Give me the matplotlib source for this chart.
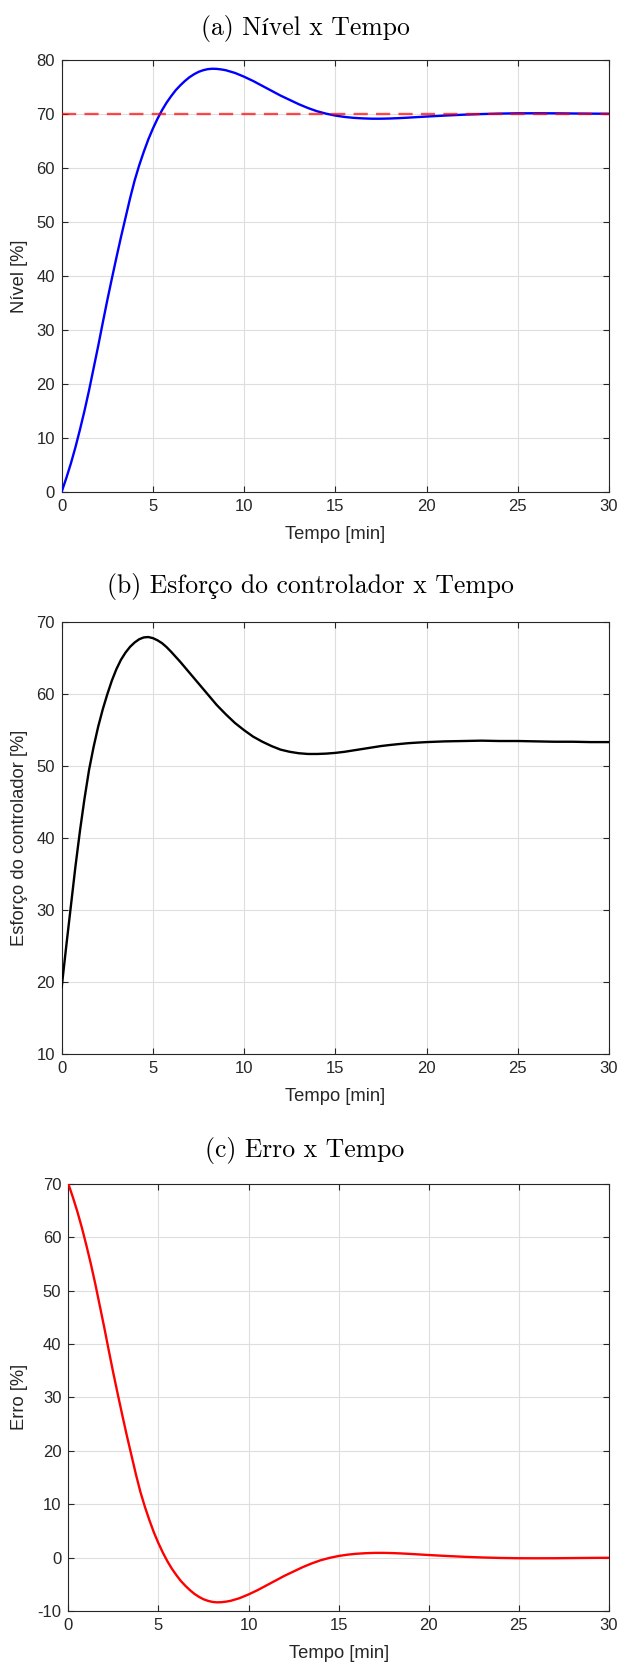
import matplotlib
matplotlib.use("Agg")
import matplotlib.pyplot as plt

# tempo [min]
tempo = [0, 0.25, 0.5, 0.75, 1, 1.25, 1.5, 1.75, 2, 2.25, 2.5, 2.75, 3, 3.25, 3.5, 3.75,
         4, 4.25, 4.5, 4.75, 5, 5.25, 5.5, 5.75, 6, 6.25, 6.5, 6.75, 7, 7.25, 7.5, 7.75,
         8, 8.25, 8.5, 8.75, 9, 9.5, 10, 10.5, 11, 11.5, 12, 12.5, 13, 13.5, 14, 14.5,
         15, 15.5, 16, 16.5, 17, 17.5, 18, 18.5, 19, 19.5, 20, 21, 22, 23, 24, 25, 26,
         27, 28, 29, 30]

nivel = [0, 2.5, 5.2, 8.2, 11.5, 15.0, 18.8, 22.9, 27.0, 31.3, 35.5, 39.5, 43.4, 47.2,
         50.8, 54.4, 57.7, 60.5, 63.0, 65.3, 67.3, 69.1, 70.7, 72.1, 73.3, 74.4, 75.3,
         76.1, 76.8, 77.35, 77.8, 78.1, 78.3, 78.38, 78.35, 78.25, 78.1, 77.6, 76.9,
         76.1, 75.2, 74.3, 73.4, 72.6, 71.8, 71.1, 70.5, 70.05, 69.7, 69.45, 69.28,
         69.18, 69.12, 69.12, 69.16, 69.23, 69.32, 69.42, 69.52, 69.7, 69.86, 69.98,
         70.07, 70.12, 70.13, 70.12, 70.09, 70.06, 70.04]

esforco = [19.3, 25.0, 30.5, 36.0, 41.0, 45.5, 49.5, 52.7, 55.5, 57.9, 60.0, 61.9, 63.5,
           64.8, 65.8, 66.6, 67.2, 67.65, 67.9, 67.95, 67.8, 67.5, 67.1, 66.55, 65.9,
           65.2, 64.5, 63.75, 63.0, 62.25, 61.5, 60.75, 60.0, 59.25, 58.5, 57.85, 57.2,
           56.0, 55.0, 54.1, 53.4, 52.8, 52.3, 52.0, 51.8, 51.7, 51.7, 51.75, 51.85,
           52.0, 52.2, 52.4, 52.6, 52.8, 52.95, 53.08, 53.2, 53.28, 53.35, 53.45, 53.5,
           53.55, 53.5, 53.5, 53.45, 53.4, 53.4, 53.35, 53.35]

erro = [70, 67.5, 64.8, 61.8, 58.5, 55.0, 51.2, 47.1, 43.0, 38.7, 34.5, 30.5, 26.6, 22.8,
        19.2, 15.6, 12.3, 9.5, 7.0, 4.7, 2.7, 0.9, -0.7, -2.1, -3.3, -4.4, -5.3, -6.1,
        -6.8, -7.35, -7.8, -8.1, -8.3, -8.38, -8.35, -8.25, -8.1, -7.6, -6.9, -6.1,
        -5.2, -4.3, -3.4, -2.6, -1.8, -1.1, -0.5, -0.05, 0.3, 0.55, 0.72, 0.82, 0.88,
        0.88, 0.84, 0.77, 0.68, 0.58, 0.48, 0.3, 0.14, 0.02, -0.07, -0.12, -0.13,
        -0.12, -0.09, -0.06, -0.04]

setpoint = 70

titulos = ["(a) Nível x Tempo", "(b) Esforço do controlador x Tempo", "(c) Erro x Tempo"]
ylabels = ["Nível [%]", "Esforço do controlador [%]", "Erro [%]"]
ylims = [(0, 80), (10, 70), (-10, 70)]

plt.rcParams['font.family'] = ['Liberation Sans', 'DejaVu Sans']
plt.rcParams['axes.unicode_minus'] = False
W, H = 622, 1666
fig = plt.figure(figsize=(W / 100, H / 100), dpi=100)

# caixas dos eixos em pixels: esquerda, topo, direita, base
caixas = [(61.7, 60, 609, 491.7), (61.7, 622.3, 609, 1054), (68.3, 1183.7, 609, 1611)]
titulo_pos = [(305.7, 29), (310, 587), (304.6, 1150.5)]
cinza = '#262626'

axes = []
for i, (l, t, r, b) in enumerate(caixas):
    ax = fig.add_axes([l / W, 1 - b / H, (r - l) / W, (b - t) / H])
    ax.set_xlim(0, 30)
    ax.set_ylim(*ylims[i])
    ax.set_xticks(range(0, 31, 5))
    ax.set_yticks(range(ylims[i][0], ylims[i][1] + 1, 10))
    ax.grid(True, color='#dedede', linewidth=0.8)
    ax.set_axisbelow(True)
    ax.tick_params(direction='in', top=True, right=True, length=4, width=0.8,
                   colors=cinza, labelsize=12, pad=5)
    for s in ax.spines.values():
        s.set_color(cinza)
        s.set_linewidth(0.8)
    ax.set_xlabel("Tempo [min]", fontsize=13.2, color=cinza)
    ax.set_ylabel(ylabels[i], fontsize=13.2, color=cinza)
    ax.xaxis.label.set_va('center')
    ax.yaxis.label.set_va('center')
    ax.xaxis.set_label_coords(0.5, -42.5 / (b - t))
    ax.yaxis.set_label_coords(-(l - 19.5) / (r - l), 0.5)
    x, y = titulo_pos[i]
    fig.text(x / W, 1 - y / H, titulos[i], ha='center', va='center', fontsize=18.5,
             family=['cmr10', 'STIXGeneral'])
    axes.append(ax)

ax1, ax2, ax3 = axes
ax1.plot(tempo, nivel, color='blue', linewidth=1.7, zorder=3)
ax1.plot([0, 30], [setpoint, setpoint], color='red', alpha=0.7, linewidth=1.7,
         dashes=(6, 3.5), zorder=4)
ax2.plot(tempo, esforco, color='black', linewidth=1.7, zorder=3)
ax3.plot(tempo, erro, color='red', linewidth=1.7, zorder=3)

fig.savefig("out.png", dpi=100)
